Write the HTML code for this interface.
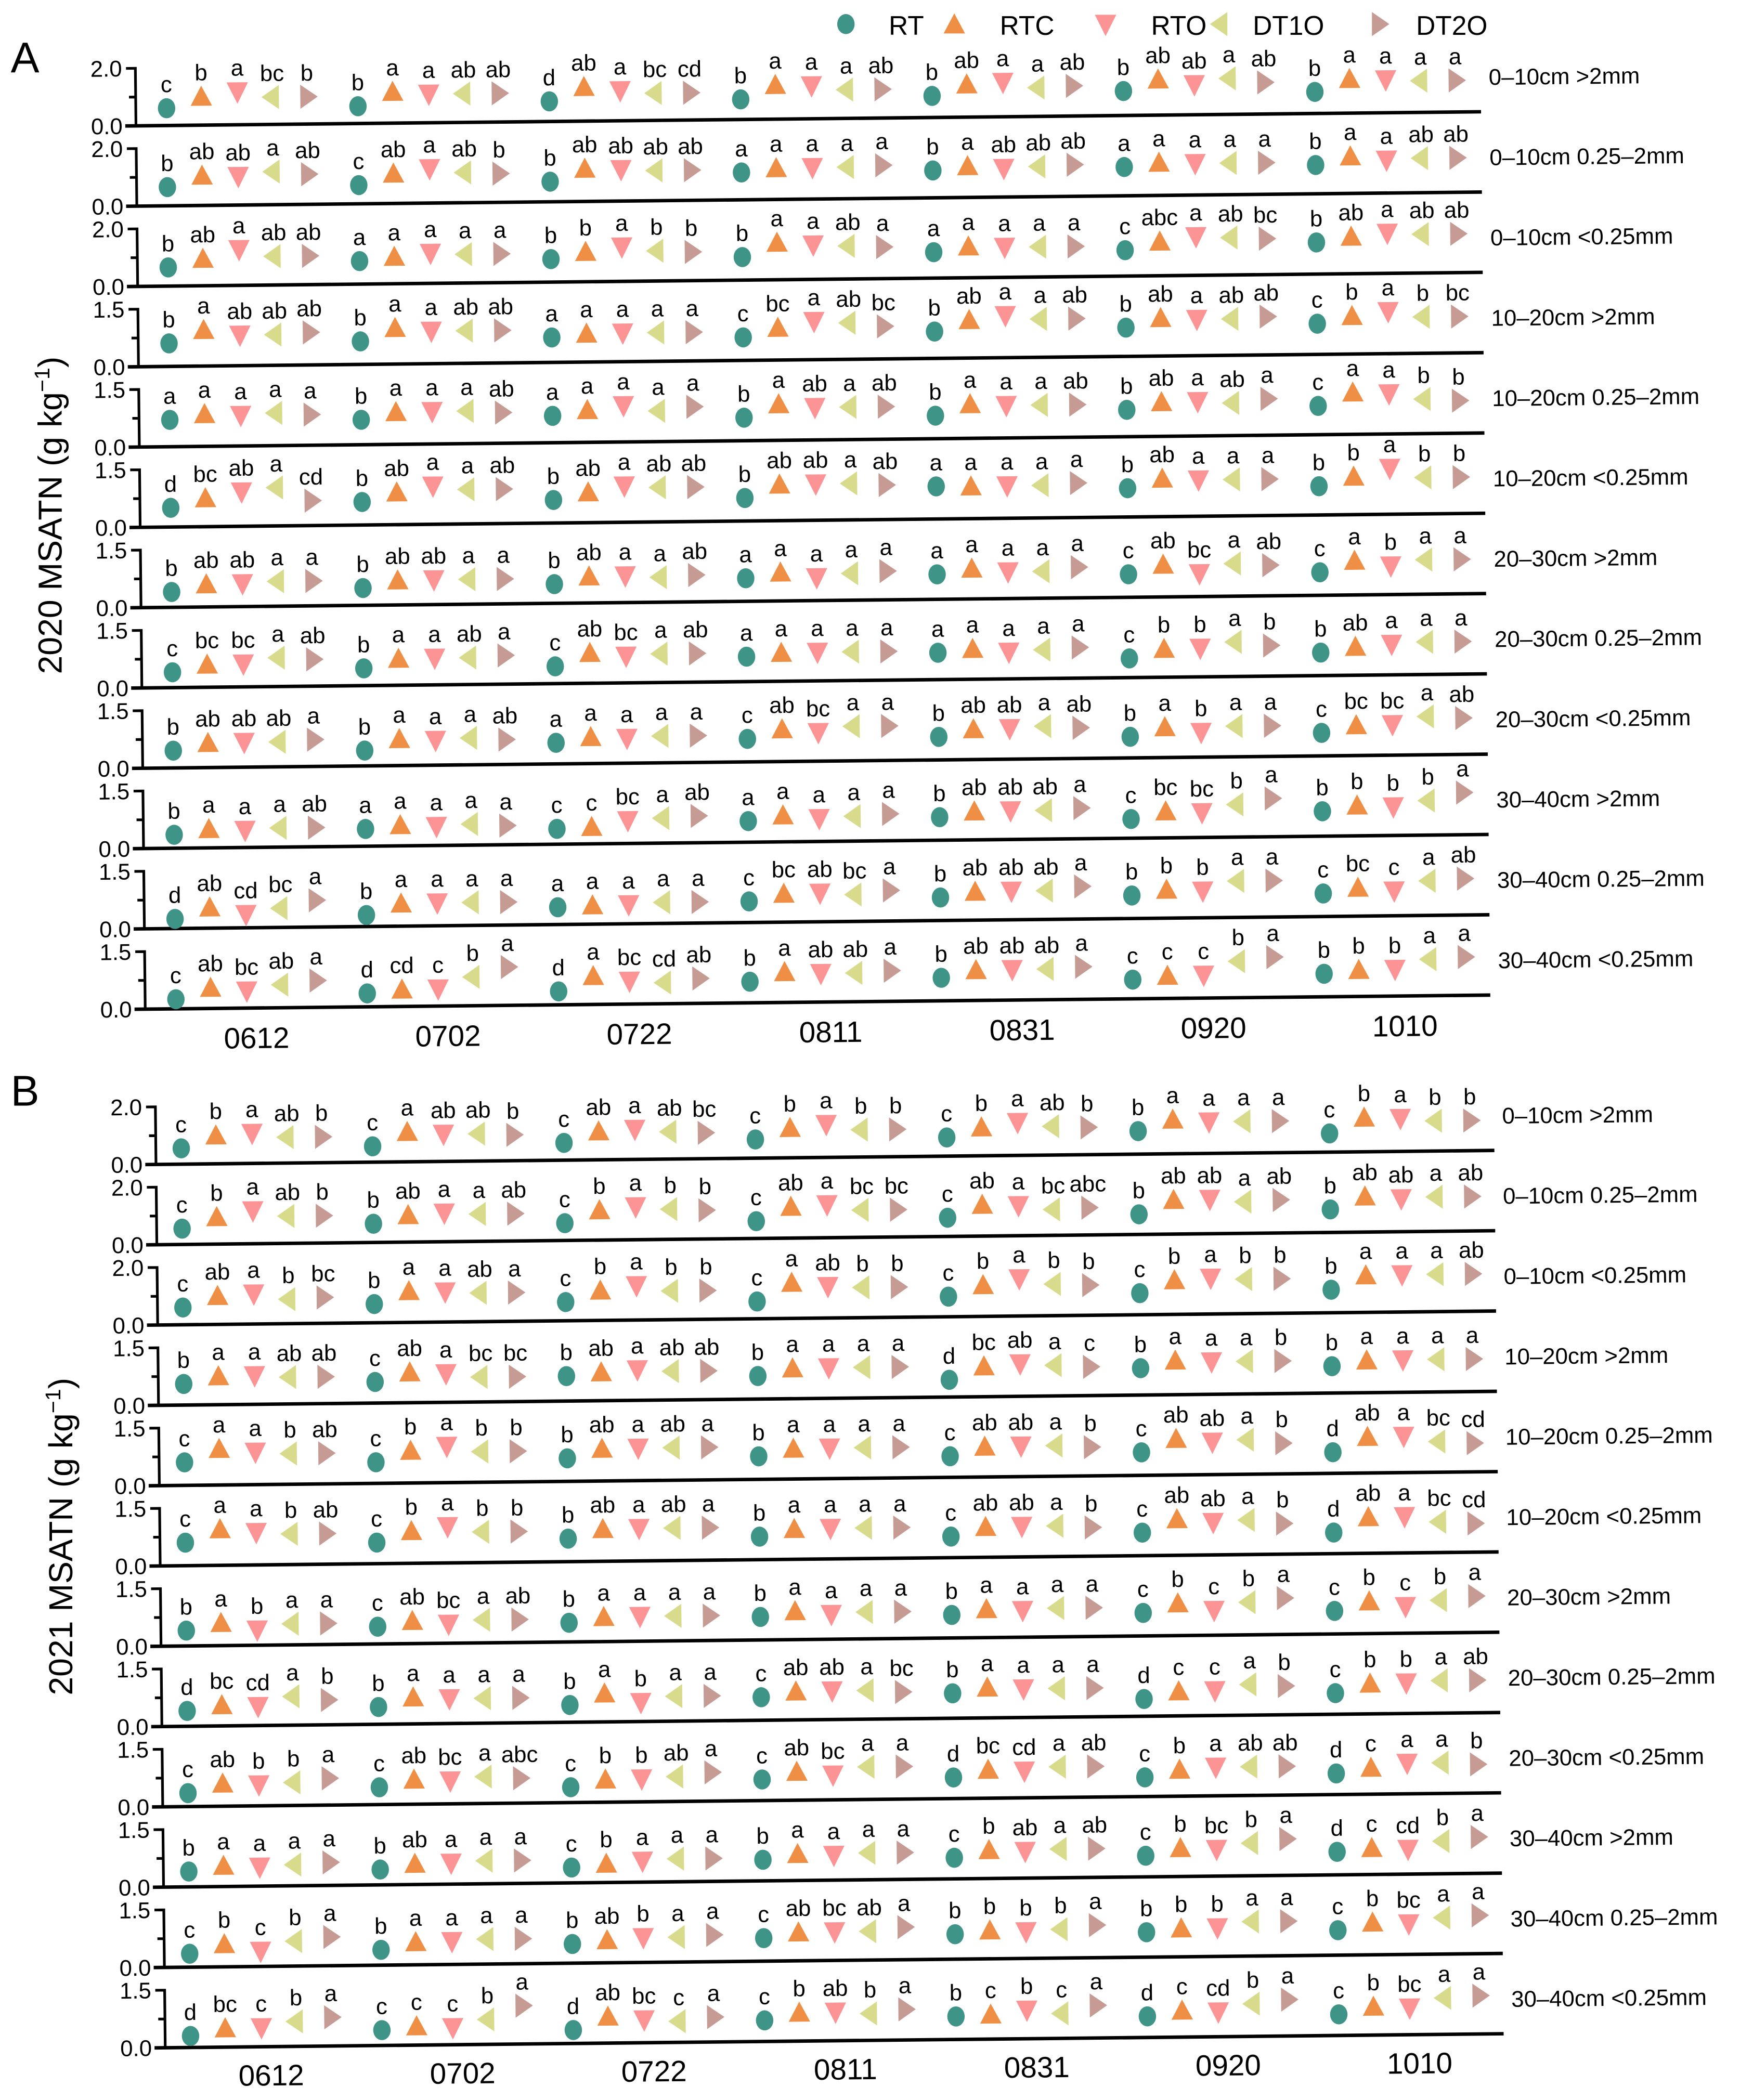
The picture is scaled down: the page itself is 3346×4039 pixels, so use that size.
<!DOCTYPE html>
<html><head><meta charset="utf-8"><style>
html,body{margin:0;padding:0;background:#fff;}
svg{display:block;font-family:"Liberation Sans Narrow","Liberation Sans",sans-serif;}
</style></head><body>
<svg id="chart" xmlns="http://www.w3.org/2000/svg" width="3346" height="4039" viewBox="0 0 1300 1569" preserveAspectRatio="none">
<g id="legend"></g>
<text x="8" y="54" font-size="32">A</text>
<text x="8" y="826" font-size="32">B</text>
<g id="panelA" transform="rotate(-0.6 105 420)"></g>
<g id="panelB" transform="rotate(-0.6 118 1200)"></g>
<text transform="translate(46 385) rotate(-90)" text-anchor="middle" font-size="25" font-family="Liberation Sans, sans-serif">2020 MSATN (g kg<tspan dy="-9" font-size="16">−1</tspan><tspan dy="9">)</tspan></text>
<text transform="translate(54 1148) rotate(-90)" text-anchor="middle" font-size="25" font-family="Liberation Sans, sans-serif">2021 MSATN (g kg<tspan dy="-9" font-size="16">−1</tspan><tspan dy="9">)</tspan></text>
</svg>
<script>
const dates = ["0612","0702","0722","0811","0831","0920","1010"];
const seriesNames = ["RT","RTC","RTO","DT1O","DT2O"];
const rowLabels = ["0–10cm >2mm","0–10cm 0.25–2mm","0–10cm <0.25mm","10–20cm >2mm","10–20cm 0.25–2mm","10–20cm <0.25mm","20–30cm >2mm","20–30cm 0.25–2mm","20–30cm <0.25mm","30–40cm >2mm","30–40cm 0.25–2mm","30–40cm <0.25mm"];
const rowMax = [2,2,2,1.5,1.5,1.5,1.5,1.5,1.5,1.5,1.5,1.5];
const rowTickLabels = [["0.0","2.0"],["0.0","2.0"],["0.0","2.0"],["0.0","1.5"],["0.0","1.5"],["0.0","1.5"],["0.0","1.5"],["0.0","1.5"],["0.0","1.5"],["0.0","1.5"],["0.0","1.5"],["0.0","1.5"]];

const valuesA = [
[[.6,1.0,1.15,.95,.95],[.6,1.1,1.0,1.0,1.0],[.7,1.2,1.05,.95,.95],[.7,1.2,1.15,1.0,1.0],[.75,1.15,1.2,1.0,1.05],[.85,1.25,1.05,1.25,1.1],[.75,1.2,1.15,1.1,1.1]],
[[.65,1.05,1.0,1.15,1.05],[.65,1.05,1.2,1.05,1.0],[.7,1.15,1.1,1.05,1.05],[.95,1.1,1.1,1.1,1.15],[.95,1.1,1.0,1.05,1.1],[1.0,1.15,1.1,1.1,1.1],[1.0,1.3,1.15,1.2,1.2]],
[[.65,.95,1.25,1.0,1.0],[.8,.95,1.05,1.0,1.0],[.8,1.05,1.2,1.05,1.0],[.8,1.3,1.2,1.15,1.1],[.9,1.1,1.05,1.05,1.05],[.9,1.2,1.35,1.3,1.25],[1.1,1.3,1.4,1.35,1.35]],
[[.6,.95,.8,.8,.85],[.6,.95,.85,.85,.85],[.65,.75,.75,.75,.75],[.6,.85,1.0,.95,.85],[.7,1.0,1.1,1.0,1.0],[.75,1.0,.95,.95,1.0],[.8,1.0,1.1,.95,.95]],
[[.7,.85,.8,.85,.8],[.65,.85,.85,.85,.8],[.7,.85,.95,.8,.9],[.6,.95,.85,.85,.85],[.6,.9,.85,.85,.85],[.7,.9,.9,.85,.95],[.75,1.1,1.05,.9,.85]],
[[.5,.75,.9,1.0,.65],[.6,.85,1.0,.9,.9],[.6,.8,.95,.9,.9],[.6,.95,.95,.95,.9],[.85,.85,.85,.85,.9],[.75,1.0,.95,.95,.95],[.75,1.0,1.2,.95,.95]],
[[.4,.6,.6,.65,.65],[.45,.65,.65,.65,.65],[.5,.7,.7,.65,.7],[.6,.75,.6,.7,.75],[.65,.8,.7,.7,.8],[.6,.85,.6,.85,.8],[.6,.9,.75,.9,.9]],
[[.4,.6,.6,.75,.7],[.45,.7,.7,.7,.75],[.45,.8,.7,.75,.75],[.65,.75,.75,.75,.75],[.7,.8,.7,.75,.8],[.5,.75,.75,.9,.8],[.6,.75,.8,.85,.85]],
[[.45,.65,.65,.65,.7],[.4,.7,.65,.7,.65],[.55,.7,.65,.7,.7],[.6,.85,.75,.9,.9],[.6,.8,.8,.85,.8],[.55,.8,.65,.8,.8],[.6,.8,.8,1.0,.95]],
[[.35,.5,.45,.5,.5],[.45,.55,.5,.55,.5],[.4,.45,.6,.65,.7],[.55,.7,.6,.65,.7],[.6,.75,.75,.75,.8],[.5,.7,.65,.85,1.0],[.65,.8,.75,.9,1.1]],
[[.25,.55,.35,.5,.7],[.3,.6,.6,.6,.6],[.45,.5,.5,.55,.55],[.55,.75,.75,.7,.8],[.6,.75,.75,.75,.85],[.6,.75,.7,.95,.95],[.6,.75,.65,.9,.95]],
[[.25,.55,.45,.6,.7],[.35,.45,.45,.75,1.0],[.35,.75,.6,.55,.65],[.55,.8,.75,.75,.8],[.6,.8,.8,.8,.85],[.5,.6,.6,.95,1.05],[.6,.7,.7,.95,1.0]]
];
const lettersA = [
["c b a bc b","b a a ab ab","d ab a bc cd","b a a a ab","b ab a a ab","b ab ab a ab","b a a a a"],
["b ab ab a ab","c ab a ab b","b ab ab ab ab","a a a a a","b a ab ab ab","a a a a a","b a a ab ab"],
["b ab a ab ab","a a a a a","b b a b b","b a a ab a","a a a a a","c abc a ab bc","b ab a ab ab"],
["b a ab ab ab","b a a ab ab","a a a a a","c bc a ab bc","b ab a a ab","b ab a ab ab","c b a b bc"],
["a a a a a","b a a a ab","a a a a a","b a ab a ab","b a a a ab","b ab a ab a","c a a b b"],
["d bc ab a cd","b ab a a ab","b ab a ab ab","b ab ab a ab","a a a a a","b ab a a a","b b a b b"],
["b ab ab a a","b ab ab a a","b ab a a ab","a a a a a","a a a a a","c ab bc a ab","c a b a a"],
["c bc bc a ab","b a a ab a","c ab bc a ab","a a a a a","a a a a a","c b b a b","b ab a a a"],
["b ab ab ab a","b a a a ab","a a a a a","c ab bc a a","b ab ab a ab","b a b a a","c bc bc a ab"],
["b a a a ab","a a a a a","c c bc a ab","a a a a a","b ab ab ab a","c bc bc b a","b b b b a"],
["d ab cd bc a","b a a a a","a a a a a","c bc ab bc a","b ab ab ab a","b b b a a","c bc c a ab"],
["c ab bc ab a","d cd c b a","d a bc cd ab","b a ab ab a","b ab ab ab a","c c c b a","b b b a a"]
];
const valuesB = [
[[.55,1.0,1.05,.9,.9],[.55,1.05,.95,.95,.9],[.6,1.0,1.05,.95,.9],[.65,1.05,1.15,.95,.95],[.65,1.0,1.15,1.0,.95],[.8,1.2,1.1,1.1,1.1],[.65,1.2,1.15,1.05,1.05]],
[[.55,.95,1.15,.95,.95],[.65,.95,1.0,.95,.95],[.6,1.05,1.15,1.05,1.0],[.6,1.1,1.15,.95,.95],[.65,1.1,1.05,.9,.95],[.7,1.2,1.2,1.1,1.15],[.8,1.25,1.15,1.2,1.2]],
[[.6,1.0,1.05,.85,.9],[.65,1.1,1.05,1.0,1.0],[.65,1.05,1.2,1.0,1.0],[.6,1.25,1.1,1.05,1.05],[.7,1.1,1.3,1.1,1.05],[.75,1.2,1.25,1.2,1.2],[.8,1.3,1.3,1.3,1.3]],
[[.55,.75,.75,.7,.7],[.55,.8,.75,.65,.65],[.65,.75,.8,.75,.75],[.6,.8,.8,.8,.8],[.45,.8,.85,.8,.75],[.7,.9,.85,.85,.85],[.7,.85,.85,.85,.85]],
[[.6,.95,.85,.8,.8],[.55,.85,.95,.8,.8],[.6,.85,.85,.85,.85],[.6,.8,.8,.8,.8],[.55,.8,.8,.8,.75],[.6,.95,.85,.9,.8],[.55,.95,.95,.8,.75]],
[[.6,.95,.85,.8,.8],[.55,.85,.95,.8,.8],[.6,.85,.85,.85,.85],[.6,.8,.8,.8,.8],[.55,.8,.8,.8,.75],[.6,.95,.85,.9,.8],[.55,.95,.95,.8,.75]],
[[.4,.6,.4,.55,.55],[.45,.6,.5,.6,.6],[.5,.65,.65,.65,.65],[.6,.75,.65,.7,.7],[.6,.75,.7,.75,.75],[.6,.85,.65,.85,.95],[.6,.85,.7,.85,.95]],
[[.4,.55,.5,.75,.65],[.45,.7,.65,.65,.65],[.45,.75,.5,.65,.65],[.6,.75,.75,.75,.7],[.65,.8,.75,.75,.75],[.45,.65,.65,.8,.75],[.55,.8,.8,.85,.85]],
[[.35,.6,.55,.6,.7],[.45,.65,.6,.7,.65],[.4,.6,.6,.65,.75],[.55,.75,.65,.85,.85],[.55,.75,.7,.8,.8],[.5,.7,.75,.75,.75],[.55,.7,.8,.8,.75]],
[[.4,.55,.5,.55,.6],[.4,.55,.55,.6,.6],[.4,.5,.55,.6,.6],[.55,.7,.65,.7,.7],[.55,.75,.7,.75,.75],[.55,.75,.7,.85,.95],[.6,.7,.65,.85,.95]],
[[.35,.6,.4,.65,.75],[.4,.6,.6,.65,.65],[.5,.6,.65,.65,.7],[.6,.75,.75,.75,.85],[.65,.75,.7,.75,.85],[.65,.75,.75,.9,.9],[.65,.85,.8,.95,1.0]],
[[.3,.5,.5,.65,.75],[.4,.5,.45,.65,1.0],[.35,.7,.6,.55,.65],[.55,.75,.75,.7,.8],[.6,.65,.75,.65,.85],[.55,.7,.65,.85,.95],[.55,.75,.7,.95,1.0]]
];
const lettersB = [
["c b a ab b","c a ab ab b","c ab a ab bc","c b a b b","c b a ab b","b a a a a","c b a b b"],
["c b a ab b","b ab a a ab","c b a b b","c ab a bc bc","c ab a bc abc","b ab ab a ab","b ab ab a ab"],
["c ab a b bc","b a a ab a","c b a b b","c a ab b b","c b a b b","c b a b b","b a a a ab"],
["b a a ab ab","c ab a bc bc","b ab a ab ab","b a a a a","d bc ab a c","b a a a b","b a a a a"],
["c a a b ab","c b a b b","b ab a ab a","b a a a a","c ab ab a b","c ab ab a b","d ab a bc cd"],
["c a a b ab","c b a b b","b ab a ab a","b a a a a","c ab ab a b","c ab ab a b","d ab a bc cd"],
["b a b a a","c ab bc a ab","b a a a a","b a a a a","b a a a a","c b c b a","c b c b a"],
["d bc cd a b","b a a a a","b a b a a","c ab ab a bc","b a a a a","d c c a b","c b b a ab"],
["c ab b b a","c ab bc a abc","c b b ab a","c ab bc a a","d bc cd a ab","c b a ab ab","d c a a b"],
["b a a a a","b ab a a a","c b a a a","b a a a a","c b ab a ab","c b bc b a","d c cd b a"],
["c b c b a","b a a a a","b ab b a a","c ab bc ab a","b b b b a","b b b a a","c b bc a a"],
["d bc c b a","c c c b a","d ab bc c a","c b ab b a","b c b c a","d c cd b a","c b bc a a"]
];

const colors = ["#3f9488","#ee8f45","#fc9496","#d8db8c","#c59b94"];
const NS = "http://www.w3.org/2000/svg";
function mk(tag, attrs, parent){const e=document.createElementNS(NS,tag);for(const k in attrs)e.setAttribute(k,attrs[k]);parent.appendChild(e);return e;}
function marker(parent, s, x, y){
  let e;
  if(s===0){e=mk("ellipse",{cx:x,cy:y,rx:6.5,ry:7.5,fill:colors[0]},parent);}
  else{
    let p;
    if(s===1)p=[[x,y-8],[x-8,y+7],[x+8,y+7]];
    else if(s===2)p=[[x-8,y-7],[x+8,y-7],[x,y+9]];
    else if(s===3)p=[[x-8,y],[x+5,y-9],[x+5,y+9]];
    else p=[[x-5,y-9],[x-5,y+9],[x+8,y]];
    e=mk("polygon",{points:p.map(q=>q.join(",")).join(" "),fill:colors[s]},parent);
  }
  return e;
}

// legend
const legend=document.getElementById("legend");
const legX=[632,713,826,912,1030], legTX=[664,747,860,936,1058];
for(let s=0;s<5;s++){
  const m=marker(legend,s,legX[s],18);
  
  
  const t=mk("text",{x:legTX[s],y:26,"font-size":20},legend);
  t.textContent=seriesNames[s];
  
  
}

function drawPanel(g, cfg, values, letters, prefix){
  const xScale = (d,s)=> cfg.groups[d] + cfg.offsets[s];
  for(let r=0;r<12;r++){
    const base = cfg.base0 + r*60;
    const yScale = v => base - v/rowMax[r]*43;
    const row = mk("g",{},g);
    
    
    const ax=mk("path",{d:`M${cfg.ax-7} ${yScale(rowMax[r])} H${cfg.ax} V${base} M${cfg.ax-5} ${yScale(rowMax[r]/2)} H${cfg.ax}`,stroke:"#000","stroke-width":2,fill:"none"},row);
    
    
    const bl=mk("line",{x1:cfg.ax-8,y1:base,x2:cfg.end,y2:base,stroke:"#000","stroke-width":2.6},row);
    
    
    for(let k=0;k<2;k++){
      const t=mk("text",{x:cfg.ax-10,y:(k?yScale(rowMax[r]):base)+6,"text-anchor":"end","font-size":17},row);
      t.textContent=rowTickLabels[r][k];
      
      
    }
    const lab=mk("text",{x:cfg.end+6,y:base-20,"font-size":17},row);
    lab.textContent=rowLabels[r];
    
    
    for(let d=0;d<7;d++){
      const lets=letters[r][d].split(" ");
      for(let s=0;s<5;s++){
        const x=xScale(d,s), y=yScale(values[r][d][s]);
        const m=marker(row,s,x,y);
        
        
        const t=mk("text",{x:x,y:y-12,"text-anchor":"middle","font-size":17},row);
        t.textContent=lets[s]||"";
        
        
      }
    }
  }
  for(let d=0;d<7;d++){
    const t=mk("text",{x:cfg.groups[d]+7,y:cfg.dateY,"text-anchor":"middle","font-size":22},g);
    t.textContent=dates[d];
    
    
  }
}
const offsets=[-53,-27,0,26,52];
drawPanel(document.getElementById("panelA"),{ax:105,end:1110,base0:94,groups:[181,324,467,610,753,896,1039],offsets:offsets,dateY:784},valuesA,lettersA,"2020");
drawPanel(document.getElementById("panelB"),{ax:120,end:1120,base0:870,groups:[192,335,478,621,764,907,1050],offsets:offsets,dateY:1559},valuesB,lettersB,"2021");
</script>
</body></html>
